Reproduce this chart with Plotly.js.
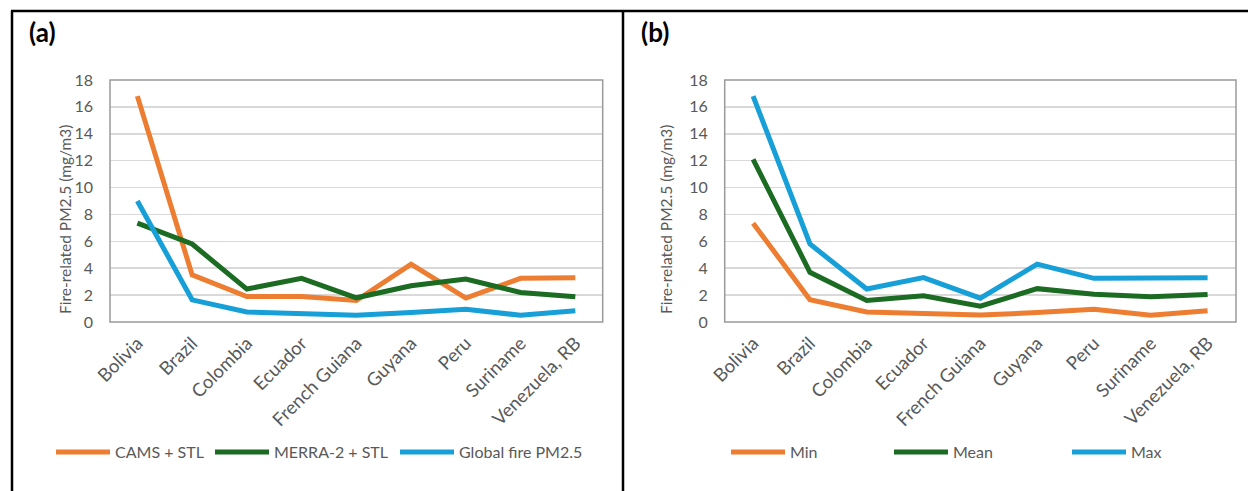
<!DOCTYPE html>
<html><head><meta charset="utf-8">
<script src="https://cdn.plot.ly/plotly-3.0.1.min.js"></script>
<style>html,body{margin:0;padding:0;background:#fff}#chart{width:1248px;height:491px}</style>
</head><body><div id="chart"></div>
<script>
const countries = ["Bolivia","Brazil","Colombia","Ecuador","French Guiana","Guyana","Peru","Suriname","Venezuela, RB"];
const camsStl   = [16.8, 3.5, 1.9, 1.9, 1.6, 4.3, 1.78, 3.25, 3.3];
const merra2Stl = [7.35, 5.8, 2.45, 3.25, 1.8, 2.7, 3.2, 2.2, 1.87];
const globalFire= [9.0, 1.65, 0.75, 0.6, 0.5, 0.7, 0.95, 0.5, 0.84];
const minVals   = [7.35, 1.65, 0.75, 0.6, 0.52, 0.7, 0.95, 0.5, 0.84];
const meanVals  = [12.1, 3.7, 1.6, 1.95, 1.18, 2.48, 2.07, 1.87, 2.05];
const maxVals   = [16.8, 5.8, 2.45, 3.3, 1.77, 4.3, 3.25, 3.25, 3.3];
const yTicks = [0,2,4,6,8,10,12,14,16,18];
const yTitle = "Fire-related PM2.5 (mg/m3)";

const W = 1248, H = 491;
const px = x => x / W, py = y => 1 - y / H;
const ORANGE = "#ED7D31", GREEN = "#1B6B22", BLUE = "#179FD7";
const FONT = "Lato, 'Open Sans', sans-serif";
const TXT = "#595959";

function tr(y, name, color, xa, ya, leg) {
  return {x: countries, y: y, name: name, type: "scatter", mode: "lines",
    line: {color: color, width: 5, shape: "linear"}, xaxis: xa, yaxis: ya, legend: leg,
    hoverinfo: "skip"};
}
const data = [
  tr(camsStl, "CAMS + STL", ORANGE, "x", "y", "legend"),
  tr(merra2Stl, "MERRA-2 + STL", GREEN, "x", "y", "legend2"),
  tr(globalFire, "Global fire PM2.5", BLUE, "x", "y", "legend3"),
  tr(minVals, "Min", ORANGE, "x2", "y2", "legend4"),
  tr(meanVals, "Mean", GREEN, "x2", "y2", "legend5"),
  tr(maxVals, "Max", BLUE, "x2", "y2", "legend6")
];

function xax(dom, anchor) {
  return {domain: dom, anchor: anchor, type: "category", range: [-0.5, 8.5],
    tickangle: -45, tickfont: {family: FONT, size: 18.5, color: TXT},
    showgrid: false, zeroline: false, showline: false, ticks: "", ticklabelstandoff: 6,
    automargin: false, fixedrange: true};
}
function yax(anchor) {
  return {domain: [py(322), py(80)], anchor: anchor, range: [0, 18], tickvals: yTicks,
    ticktext: yTicks.map(String), tickfont: {family: FONT, size: 16, color: TXT},
    showgrid: true, gridcolor: "#D9D9D9", gridwidth: 1.5, zeroline: false,
    showline: false, ticks: "", ticklabelstandoff: 16, automargin: false, fixedrange: true};
}

const shapes = [
  {type: "line", xref: "paper", yref: "paper", x0: px(11), x1: px(1248), y0: py(11), y1: py(11), line: {color: "#000", width: 2.5}},
  {type: "line", xref: "paper", yref: "paper", x0: px(12), x1: px(12), y0: py(11), y1: py(491), line: {color: "#000", width: 2.5}},
  {type: "line", xref: "paper", yref: "paper", x0: px(623), x1: px(623), y0: py(11), y1: py(491), line: {color: "#000", width: 2.5}},
  {type: "rect", xref: "paper", yref: "paper", x0: px(110), x1: px(602.7), y0: py(322), y1: py(80), line: {color: "#9A9A9A", width: 1.5}},
  {type: "rect", xref: "paper", yref: "paper", x0: px(724.7), x1: px(1236), y0: py(322), y1: py(80), line: {color: "#9A9A9A", width: 1.5}}
];

const annotations = [
  {text: "<b>(a)</b>", xref: "paper", yref: "paper", x: px(42), y: py(32), xanchor: "center", yanchor: "middle", showarrow: false, font: {family: FONT, size: 26, color: "#000"}},
  {text: "<b>(b)</b>", xref: "paper", yref: "paper", x: px(655), y: py(32), xanchor: "center", yanchor: "middle", showarrow: false, font: {family: FONT, size: 26, color: "#000"}},
  {text: yTitle, xref: "paper", yref: "paper", x: px(54), y: py(220), textangle: -90, showarrow: false, font: {family: FONT, size: 15.5, color: TXT}},
  {text: yTitle, xref: "paper", yref: "paper", x: px(666), y: py(220), textangle: -90, showarrow: false, font: {family: FONT, size: 15.5, color: TXT}}
];

const legFont = {family: FONT, size: 16, color: TXT};
function leg(x) {
  return {orientation: "h", x: px(x - 5), y: py(452), xanchor: "left", yanchor: "middle",
    font: legFont, itemwidth: 54, bgcolor: "rgba(0,0,0,0)"};
}
const layout = {
  width: W, height: H, autosize: false, margin: {l: 0, r: 0, t: 0, b: 0, pad: 0},
  paper_bgcolor: "#fff", plot_bgcolor: "#fff",
  xaxis: xax([px(110), px(602.7)], "y"), yaxis: yax("x"),
  xaxis2: xax([px(724.7), px(1236)], "y2"), yaxis2: yax("x2"),
  legend: leg(56), legend2: leg(215), legend3: leg(400),
  legend4: leg(731), legend5: leg(894), legend6: leg(1072),
  shapes: shapes, annotations: annotations, showlegend: true
};
Plotly.newPlot("chart", data, layout, {staticPlot: true, displayModeBar: false});
</script></body></html>
